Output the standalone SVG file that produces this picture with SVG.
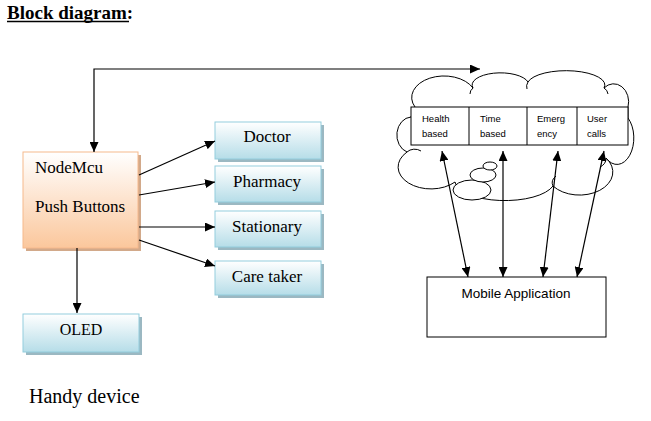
<svg xmlns="http://www.w3.org/2000/svg" width="651" height="421" viewBox="0 0 651 421">
<defs>
<linearGradient id="gBlue" x1="0" y1="0" x2="0" y2="1"><stop offset="0" stop-color="#ffffff"/><stop offset="1" stop-color="#b6dde8"/></linearGradient>
<linearGradient id="gPeach" x1="0" y1="0" x2="0" y2="1"><stop offset="0" stop-color="#ffffff"/><stop offset="1" stop-color="#fbc79c"/></linearGradient>
<marker id="ah" markerUnits="userSpaceOnUse" markerWidth="11" markerHeight="9" refX="10" refY="4.5" orient="auto-start-reverse"><path d="M0,0 L10,4.5 L0,9 z" fill="#000"/></marker>
</defs>
<style>
.serif{font-family:"Liberation Serif","Times New Roman",serif;fill:#000}
.sans{font-family:"Liberation Sans",Arial,sans-serif;fill:#000}
.blue{fill:url(#gBlue);stroke:#93cddd;stroke-width:1}
.bshadow{fill:#9bb8c2}
.peach{fill:url(#gPeach);stroke:#f6b98c;stroke-width:1}
.pshadow{fill:#d2a98a}
.conn{stroke:#000;stroke-width:1.2;fill:none}
.line{stroke:#000;stroke-width:1;fill:none}
</style>
<rect width="651" height="421" fill="#fff"/>

<g id="title">
<text class="serif" x="7" y="19" font-size="19" font-weight="bold">Block diagram:</text>
<line x1="7" y1="21.5" x2="129" y2="21.5" stroke="#000" stroke-width="1.5"/>
</g>

<g id="cloud">
<path class="line" d="M415,107 A30,20 0 0 1 473,88 A28,12 0 0 1 528,82 A38,14 0 0 1 604,88 A15,18 0 0 1 628,107 L628,118 A14,22 0 0 1 606,158 A26,18 0 0 1 553,186 A50,20 0 0 1 455,182 A24,16 0 0 1 407,152 A15,18 0 0 1 411,117 Z" style="fill:#fff"/>
<path class="line" d="M473,88 A10,8 0 0 0 470,94 M528,82 A8,8 0 0 0 527,89 M604,88 A8,8 0 0 1 608,94 M407,152 A10,8 0 0 1 421,151 M606,158 A12,10 0 0 1 600,167 M553,186 A14,10 0 0 1 556,176"/>
<ellipse cx="472" cy="190" rx="19" ry="10" fill="#fff" stroke="#000" stroke-width="1"/>
<ellipse cx="483" cy="175" rx="13" ry="7" fill="#fff" stroke="#000" stroke-width="1"/>
<ellipse cx="490" cy="166" rx="7" ry="4" fill="#fff" stroke="#000" stroke-width="1"/>
</g>

<g id="cells">
<rect x="411" y="107" width="217" height="38" fill="#fff" stroke="#000" stroke-width="1"/>
<line class="line" x1="469" y1="107" x2="469" y2="145"/>
<line class="line" x1="527" y1="107" x2="527" y2="145"/>
<line class="line" x1="577" y1="107" x2="577" y2="145"/>
<text class="sans" font-size="9.5"><tspan x="422" y="122">Health</tspan><tspan x="422" y="137">based</tspan></text>
<text class="sans" font-size="9.5"><tspan x="480" y="122">Time</tspan><tspan x="480" y="137">based</tspan></text>
<text class="sans" font-size="9.5"><tspan x="537" y="122">Emerg</tspan><tspan x="537" y="137">ency</tspan></text>
<text class="sans" font-size="9.5"><tspan x="587" y="122">User</tspan><tspan x="587" y="137">calls</tspan></text>
</g>

<g id="nodemcu">
<rect class="pshadow" x="26" y="155" width="115" height="96"/>
<rect class="peach" x="23" y="152" width="115" height="96"/>
<text class="serif" x="35" y="173" font-size="17">NodeMcu</text>
<text class="serif" x="35" y="212" font-size="17">Push Buttons</text>
</g>

<g id="doctor">
<rect class="bshadow" x="218" y="125" width="106" height="37"/>
<rect class="blue" x="215" y="122" width="106" height="37"/>
<text class="serif" x="267" y="142" font-size="17" text-anchor="middle">Doctor</text>
</g>
<g id="pharmacy">
<rect class="bshadow" x="218" y="169" width="106" height="36"/>
<rect class="blue" x="215" y="166" width="106" height="36"/>
<text class="serif" x="267" y="187" font-size="17" text-anchor="middle">Pharmacy</text>
</g>
<g id="stationary">
<rect class="bshadow" x="218" y="214" width="106" height="36"/>
<rect class="blue" x="215" y="211" width="106" height="36"/>
<text class="serif" x="267" y="232" font-size="17" text-anchor="middle">Stationary</text>
</g>
<g id="caretaker">
<rect class="bshadow" x="218" y="264" width="106" height="34"/>
<rect class="blue" x="215" y="261" width="106" height="34"/>
<text class="serif" x="267" y="282" font-size="17" text-anchor="middle">Care taker</text>
</g>
<g id="oled">
<rect class="bshadow" x="26" y="317" width="116" height="38"/>
<rect class="blue" x="23" y="314" width="116" height="38"/>
<text class="serif" x="81" y="335" font-size="16" text-anchor="middle">OLED</text>
</g>

<g id="mobile">
<rect x="427" y="277" width="179" height="60" fill="#fff" stroke="#000" stroke-width="1"/>
<text class="sans" x="516" y="298" font-size="13.5" text-anchor="middle">Mobile Application</text>
</g>

<g id="label">
<text class="serif" x="29" y="403" font-size="20">Handy device</text>
</g>

<g id="connectors">
<path class="conn" d="M480,69 H94 V152" marker-start="url(#ah)" marker-end="url(#ah)"/>
<line class="conn" x1="139" y1="175" x2="215" y2="141" marker-end="url(#ah)"/>
<line class="conn" x1="139" y1="195" x2="215" y2="182" marker-end="url(#ah)"/>
<line class="conn" x1="139" y1="227" x2="215" y2="227" marker-end="url(#ah)"/>
<line class="conn" x1="139" y1="240" x2="215" y2="266" marker-end="url(#ah)"/>
<line class="conn" x1="77" y1="248" x2="77" y2="313" stroke="#333" stroke-width="1.6" marker-end="url(#ah)"/>
<line class="conn" x1="442" y1="151" x2="468" y2="277" marker-start="url(#ah)" marker-end="url(#ah)"/>
<line class="conn" x1="503" y1="151" x2="503" y2="277" marker-start="url(#ah)" marker-end="url(#ah)"/>
<line class="conn" x1="558" y1="151" x2="543" y2="277" marker-start="url(#ah)" marker-end="url(#ah)"/>
<line class="conn" x1="604" y1="151" x2="577" y2="277" marker-start="url(#ah)" marker-end="url(#ah)"/>
</g>
</svg>
